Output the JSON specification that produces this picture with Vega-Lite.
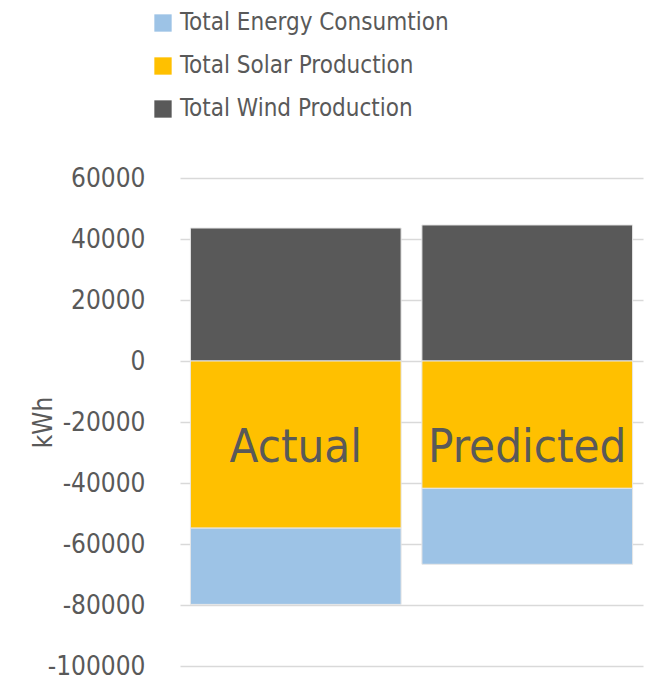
{
  "$schema": "https://vega.github.io/schema/vega-lite/v6.json",
  "autosize": "none",
  "width": 463,
  "height": 488,
  "padding": {"left": 180, "top": 178, "right": 11, "bottom": 21},
  "background": "white",
  "config": {
    "view": {"stroke": null},
    "font": "DejaVu Sans Condensed, sans-serif"
  },
  "datasets": {
    "energy": [
      {"case": "Actual", "series": "Total Wind Production", "kwh": 43600, "seq": 1},
      {"case": "Actual", "series": "Total Solar Production", "kwh": -54800, "seq": 2},
      {"case": "Actual", "series": "Total Energy Consumtion", "kwh": -25000, "seq": 3},
      {"case": "Predicted", "series": "Total Wind Production", "kwh": 44600, "seq": 1},
      {"case": "Predicted", "series": "Total Solar Production", "kwh": -41750, "seq": 2},
      {"case": "Predicted", "series": "Total Energy Consumtion", "kwh": -24900, "seq": 3}
    ],
    "labels": [
      {"case": "Actual"},
      {"case": "Predicted"}
    ]
  },
  "layer": [
    {
      "data": {"name": "energy"},
      "mark": {"type": "bar", "stroke": "#e6e6e6", "strokeWidth": 1},
      "encoding": {
        "x": {
          "field": "case", "type": "nominal", "axis": null,
          "scale": {"paddingInner": 0.09, "paddingOuter": 0.045}
        },
        "y": {
          "field": "kwh", "type": "quantitative", "stack": "zero",
          "scale": {"domain": [-100000, 60000], "nice": false},
          "axis": {
            "title": "kWh",
            "values": [60000, 40000, 20000, 0, -20000, -40000, -60000, -80000, -100000],
            "labelExpr": "'' + datum.value",
            "domain": false, "ticks": false,
            "labelFontSize": 26, "labelColor": "#595959", "labelPadding": 35,
            "gridColor": "#d9d9d9", "gridWidth": 1.5,
            "titleFontSize": 26, "titleFontWeight": "normal", "titleColor": "#595959",
            "titleX": -124, "titleY": 244
          }
        },
        "color": {
          "field": "series", "type": "nominal",
          "scale": {
            "domain": ["Total Energy Consumtion", "Total Solar Production", "Total Wind Production"],
            "range": ["#9dc3e6", "#ffc000", "#595959"]
          },
          "legend": {
            "title": null, "orient": "none", "legendX": -29, "legendY": -167,
            "symbolType": "square", "symbolSize": 300, "symbolStrokeWidth": 0,
            "labelFontSize": 24, "labelColor": "#595959", "labelOffset": 5,
            "rowPadding": 19, "padding": 0, "labelLimit": 500
          }
        },
        "order": {"field": "seq", "type": "quantitative"}
      }
    },
    {
      "data": {"name": "labels"},
      "mark": {"type": "text", "fontSize": 47, "color": "#595959", "baseline": "alphabetic", "align": "center"},
      "encoding": {
        "x": {"field": "case", "type": "nominal"},
        "y": {"datum": -33100, "type": "quantitative"},
        "text": {"field": "case"}
      }
    }
  ]
}
